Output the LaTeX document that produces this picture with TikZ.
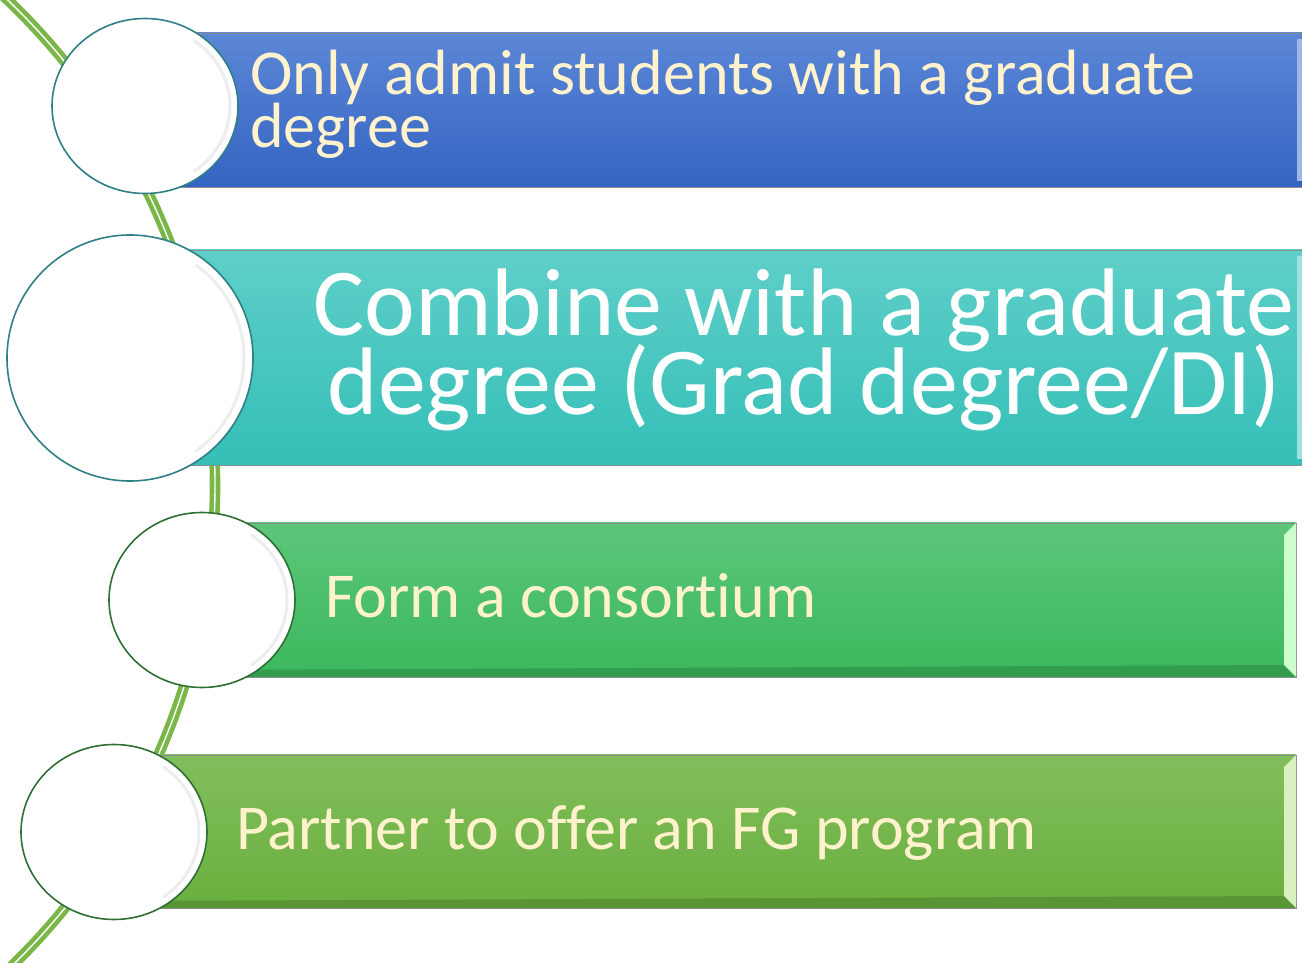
\documentclass[tikz,border=0pt]{standalone}
\usepackage{fontspec}
\setmainfont{Carlito}[Ligatures={NoCommon}]
\usetikzlibrary{shapes.geometric}
\newcommand\tightlines{\lineskiplimit=-100pt\relax\lineskip=0pt\relax}
\definecolor{cream}{HTML}{FFF2CC}
\definecolor{vine}{HTML}{7AB648}
\definecolor{blueT}{HTML}{5C87D7}
\definecolor{blueB}{HTML}{3464C2}
\definecolor{tealT}{HTML}{5FCFC9}
\definecolor{tealB}{HTML}{34BFB7}
\definecolor{grnT}{HTML}{5CC679}
\definecolor{grnB}{HTML}{3BB85D}
\definecolor{lgT}{HTML}{82BE5C}
\definecolor{lgB}{HTML}{69AF3E}
\definecolor{tealLine}{HTML}{2E7F86}
\definecolor{grnLine}{HTML}{2F6E35}
\tikzset{
  bar/.style={draw=black!45, line width=0.8pt},
  disc/.style={fill=white, line width=1.6pt, inner sep=0pt},
  txt/.style={inner sep=0pt, anchor=base west, text=cream, font={\fontsize{64}{53}\selectfont\tightlines}, align=left},
  bigtxt/.style={inner sep=0pt, anchor=base, text=white, font={\fontsize{96}{79}\selectfont\tightlines}, align=center},
  vineline/.style={draw=vine, line width=4.6pt, double=white, double distance=1.4pt},
}
\begin{document}
\begin{tikzpicture}[x=1pt,y=1pt]
\useasboundingbox (0,0) rectangle (1302,962);
\clip (0,0) rectangle (1302,962);
% vine
\coordinate (vc) at (-456,477);
\draw[vineline] ([shift={(50:671)}]vc) arc[start angle=50, end angle=-50, radius=671];
% bars
\shade[bar, top color=blueT, bottom color=blueB] (145,775) rectangle (1310,929);
\fill[blueT!60!white] (1297,781) rectangle (1302,923);
\shade[bar, top color=tealT, bottom color=tealB] (130,497) rectangle (1310,712);
\fill[tealT!60!white] (1297,503) rectangle (1302,706);
\shade[bar, top color=grnT, bottom color=grnB] (202,285) rectangle (1296,439);
\fill[grnB!85!black] (1284,297) -- (1296,285) -- (202,285) -- (202,292) -- cycle;
\fill[green!20!white] (1284,427) -- (1296,439) -- (1296,285) -- (1284,297) -- cycle;
\shade[bar, top color=lgT, bottom color=lgB] (114,54) rectangle (1296,207);
\fill[lgB!85!black] (1284,66) -- (1296,54) -- (114,54) -- (114,61) -- cycle;
\fill[yellow!40!green!25!white] (1284,195) -- (1296,207) -- (1296,54) -- (1284,66) -- cycle;
% discs
\node[disc, draw=tealLine, shape=ellipse, minimum width=186pt, minimum height=175pt] (c1) at (145,856) {};
\node[disc, draw=tealLine, shape=circle, minimum size=246pt] (c2) at (130,604) {};
\node[disc, draw=grnLine, shape=ellipse, minimum width=186pt, minimum height=175pt] (c3) at (202,362) {};
\node[disc, draw=grnLine, shape=ellipse, minimum width=186pt, minimum height=175pt] (c4) at (114,130) {};
\foreach \c/\rx/\ry in {c1/85/80, c2/114/114, c3/85/80, c4/85/80}{
  \draw[black!7, line width=3pt] ([shift={(-55:\rx pt and \ry pt)}]\c.center) arc[start angle=-55, end angle=55, x radius=\rx, y radius=\ry];
}
% texts
\node[txt] (t1) at (250,814) {Only admit students with a graduate\\degree};
\node[bigtxt] (t2) at (804,547) {Combine with a graduate\\degree (Grad degree/DI)};
\node[txt] (t3) at (325,344) {Form a consortium};
\node[txt] (t4) at (236,113) {Partner to offer an FG program};
\end{tikzpicture}
\end{document}
